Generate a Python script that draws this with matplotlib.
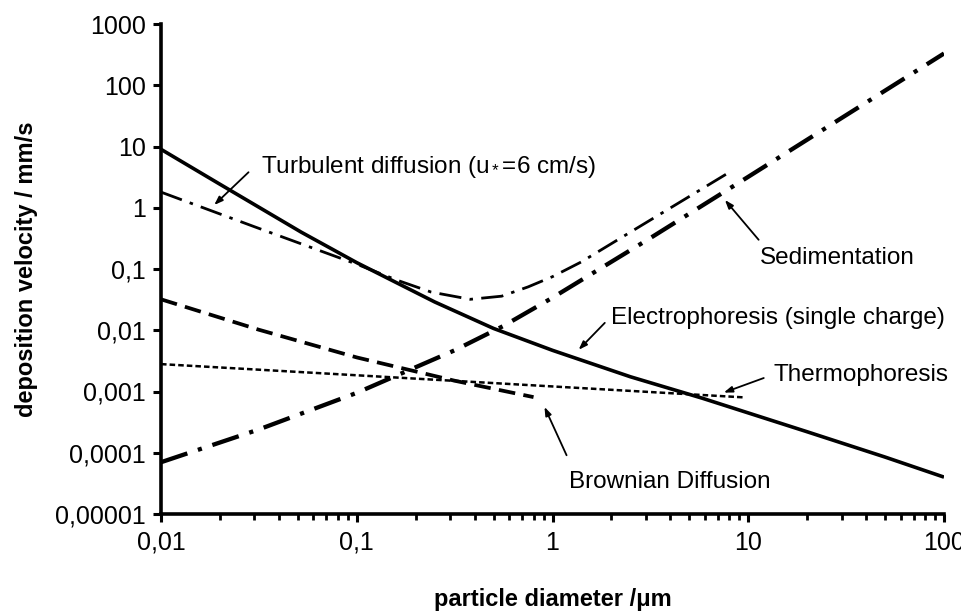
import matplotlib
matplotlib.use('Agg')
import matplotlib.pyplot as plt
import numpy as np

plt.rcParams['font.family'] = ['Liberation Sans', 'DejaVu Sans']
plt.rcParams['mathtext.fontset'] = 'custom'
plt.rcParams['mathtext.rm'] = 'Liberation Sans'
plt.rcParams['mathtext.it'] = 'Liberation Sans'
plt.rcParams['lines.scale_dashes'] = False

# values (particle diameter in um, velocity in mm/s)
electro_d = [0.01, 0.02, 0.052, 0.1, 0.25, 0.5, 1, 2.5, 5.8, 20, 50, 100]
electro_v = [9, 2.42, 0.40, 0.127, 0.029, 0.0107, 0.0047, 0.00174, 0.00078, 0.00022, 0.000085, 0.00004]

turb_d = [0.01, 0.03, 0.1, 0.16, 0.24, 0.38, 0.55, 0.75, 1, 1.4, 2.5, 7.9]
turb_v = [1.8, 0.49, 0.12, 0.066, 0.042, 0.032, 0.036, 0.051, 0.075, 0.13, 0.40, 3.7]

sedi_d = [0.01, 0.0316, 0.1, 0.316, 0.56, 1, 3.16, 10, 100]
sedi_v = [0.00007, 0.00024, 0.00095, 0.0047, 0.0117, 0.034, 0.32, 3.2, 330]

brown_d = [0.01, 0.0316, 0.1, 0.316, 0.8]
brown_v = [0.032, 0.0102, 0.0036, 0.0015, 0.00081]

thermo_d = [0.01, 1.2, 9.6]
thermo_v = [0.0028, 0.00117, 0.0008]

x_ticks = [0.01, 0.1, 1, 10, 100]
x_labels = ['0,01', '0,1', '1', '10', '100']
y_ticks = [1e-5, 1e-4, 1e-3, 1e-2, 1e-1, 1, 10, 100, 1000]
y_labels = ['0,00001', '0,0001', '0,001', '0,01', '0,1', '1', '10', '100', '1000']

fig = plt.figure(figsize=(9.61, 6.12), dpi=100)
ax = fig.add_axes([161/961, 1 - 514/612, 783/961, 490/612])

ax.plot(electro_d, electro_v, color='black', lw=2.6, solid_capstyle='butt')
ax.plot(turb_d, turb_v, color='black', lw=2.0, dashes=(16, 6, 2.5, 6))
ax.plot(sedi_d, sedi_v, color='black', lw=3.1, dashes=(20, 8, 3, 8))
ax.plot(brown_d, brown_v, color='black', lw=2.7, dashes=(12, 6))
ax.plot(thermo_d, thermo_v, color='black', lw=1.8, dashes=(4, 2.2))

ax.set_xscale('log')
ax.set_yscale('log')
ax.set_xlim(0.01, 100)
ax.set_ylim(1e-5, 1000)

ax.set_xticks(x_ticks)
ax.set_xticklabels(x_labels)
ax.set_yticks(y_ticks)
ax.set_yticklabels(y_labels)
ax.yaxis.set_minor_locator(matplotlib.ticker.NullLocator())

ax.spines['top'].set_visible(False)
ax.spines['right'].set_visible(False)
ax.spines['left'].set_linewidth(2.6)
ax.spines['bottom'].set_linewidth(2.6)
ax.tick_params(axis='both', which='major', length=6, width=2.2, labelsize=18, pad=5)
ax.tick_params(axis='x', which='minor', length=4.5, width=2)
ax.tick_params(axis='x', which='major', pad=6)

ax.set_xlabel('particle diameter /\u03bcm', fontsize=17, fontweight='bold', labelpad=24)
ax.set_ylabel('deposition velocity / mm/s', fontsize=17, fontweight='bold', labelpad=12)

arrow = dict(arrowstyle='-|>,head_length=0.5,head_width=0.18', color='black', lw=1.3,
             shrinkA=0, shrinkB=0)
fs = 17.5

ax.text(0.0325, 4.6, r'Turbulent diffusion (u$_*$=6 cm/s)', fontsize=fs, va='center', ha='left')
ax.annotate('', xy=(0.0187, 1.11), xytext=(0.028, 3.8), arrowprops=arrow)

ax.text(11.5, 0.15, 'Sedimentation', fontsize=fs, va='center', ha='left')
ax.annotate('', xy=(7.6, 1.34), xytext=(11.3, 0.30), arrowprops=arrow)

ax.text(2.0, 0.0158, 'Electrophoresis (single charge)', fontsize=fs, va='center', ha='left')
ax.annotate('', xy=(1.36, 0.0048), xytext=(1.85, 0.0132), arrowprops=arrow)

ax.text(13.5, 0.00186, 'Thermophoresis', fontsize=fs, va='center', ha='left')
ax.annotate('', xy=(7.5, 0.00096), xytext=(12, 0.00166), arrowprops=arrow)

ax.text(1.21, 0.000033, 'Brownian Diffusion', fontsize=fs, va='center', ha='left')
ax.annotate('', xy=(0.91, 0.00056), xytext=(1.18, 0.000091), arrowprops=arrow)

fig.savefig('out.png', dpi=100)
